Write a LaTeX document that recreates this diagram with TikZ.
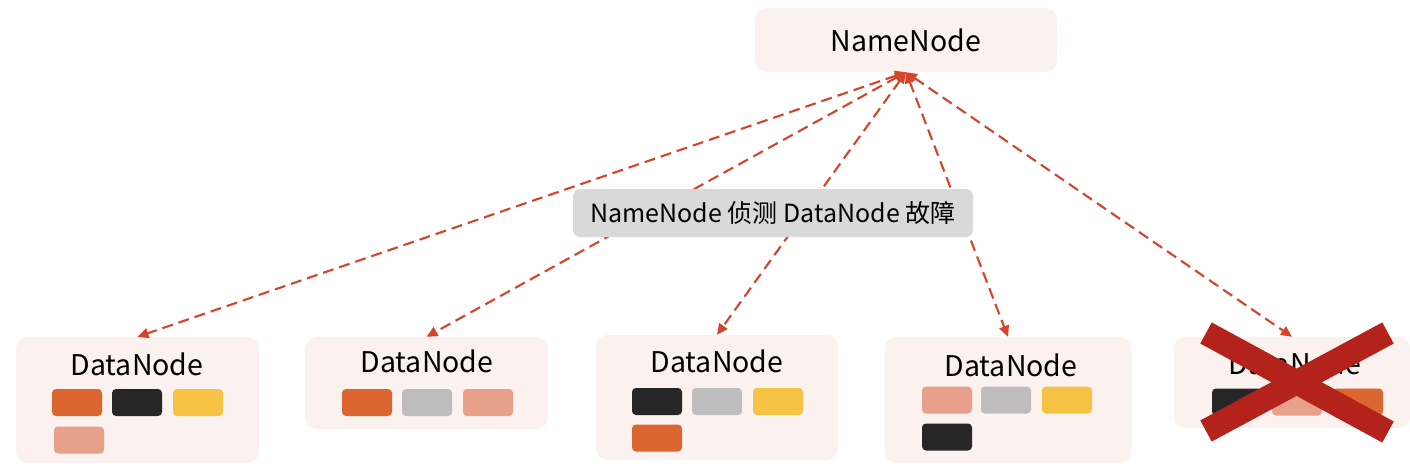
\documentclass[tikz,border=0pt]{standalone}
\usepackage{fontspec}
\setmainfont{Noto Sans CJK SC}
\usetikzlibrary{arrows.meta}
\definecolor{boxbg}{HTML}{FBF1EF}
\definecolor{labgray}{HTML}{D9D9D9}
\definecolor{cO}{HTML}{DD6630}
\definecolor{cK}{HTML}{262626}
\definecolor{cY}{HTML}{F5C244}
\definecolor{cP}{HTML}{E8A08A}
\definecolor{cG}{HTML}{BDBDBD}
\definecolor{arrowred}{HTML}{D5432A}
\definecolor{xred}{HTML}{B3221B}
\tikzset{
  nbox/.style={fill=boxbg, draw=none, rounded corners=12pt, inner sep=0pt},
  title/.style={font=\fontsize{28.5}{32}\selectfont, text=black, inner sep=0pt},
  blk/.style={minimum width=50pt, minimum height=27pt, rounded corners=4pt, inner sep=0pt, draw=none},
  conn/.style={draw=arrowred, line width=2.1pt, dash pattern=on 11pt off 6pt,
    {Triangle[length=11pt,width=10pt]}-{Triangle[length=11pt,width=10pt]}},
  xline/.style={draw=xred, line width=24pt, line cap=butt},
}
\begin{document}
\begin{tikzpicture}[x=1pt,y=-1pt]
\useasboundingbox (0,0) rectangle (1410,476);
% NameNode
\node[nbox, minimum width=302pt, minimum height=64pt] (nn) at (906,40) {};
\node[title] (nnt) at (906,40) {NameNode};
% DataNode boxes
\node[nbox, minimum width=243pt, minimum height=126pt] (dn1) at (137.5,400) {};
\node[nbox, minimum width=243pt, minimum height=92pt] (dn2) at (426.5,383) {};
\node[nbox, minimum width=242pt, minimum height=125pt] (dn3) at (717,397.5) {};
\node[nbox, minimum width=247pt, minimum height=126pt] (dn4) at (1008,400) {};
\node[nbox, minimum width=236pt, minimum height=91pt] (dn5) at (1292,382.5) {};
% titles
\node[title] (t1) at (137,364) {DataNode};
\node[title] (t2) at (427,361) {DataNode};
\node[title] (t3) at (717,361) {DataNode};
\node[title] (t4) at (1011,365) {DataNode};
\node[title] (t5) at (1295,363) {DataNode};
% blocks dn1
\node[blk, fill=cO] (b11) at (77,402.5) {};
\node[blk, fill=cK] (b12) at (137,402.5) {};
\node[blk, fill=cY] (b13) at (198,402.5) {};
\node[blk, fill=cP] (b14) at (79,440) {};
% blocks dn2
\node[blk, fill=cO] (b21) at (367,402.5) {};
\node[blk, fill=cG] (b22) at (427,402.5) {};
\node[blk, fill=cP] (b23) at (488,402.5) {};
% blocks dn3
\node[blk, fill=cK] (b31) at (657,401.5) {};
\node[blk, fill=cG] (b32) at (717,401.5) {};
\node[blk, fill=cY] (b33) at (778,401.5) {};
\node[blk, fill=cO] (b34) at (657,438) {};
% blocks dn4
\node[blk, fill=cP] (b41) at (947,400) {};
\node[blk, fill=cG] (b42) at (1006,400) {};
\node[blk, fill=cY] (b43) at (1067,400) {};
\node[blk, fill=cK] (b44) at (947,437) {};
% blocks dn5
\node[blk, fill=cK] (b51) at (1237,402) {};
\node[blk, fill=cP] (b52) at (1297,402) {};
\node[blk, fill=cO] (b53) at (1358,402) {};
% connectors
\draw[conn] (nn.south) -- (dn1.north);
\draw[conn] (nn.south) -- (dn2.north);
\draw[conn] (nn.south) -- (dn3.north);
\draw[conn] (nn.south) -- (dn4.north);
\draw[conn] (nn.south) -- (dn5.north);
% label
\node[fill=labgray, rounded corners=7pt, minimum width=400pt, minimum height=48pt, inner sep=0pt,
  font=\fontsize{25}{28}\selectfont] (lab) at (773,213) {NameNode 侦测 DataNode 故障};
% cross
\coordinate (xa) at (1206,333);
\coordinate (xb) at (1388,432);
\coordinate (xc) at (1206,431);
\coordinate (xd) at (1388,333);
\draw[xline] (xa) -- (xb);
\draw[xline] (xc) -- (xd);
\end{tikzpicture}
\end{document}
